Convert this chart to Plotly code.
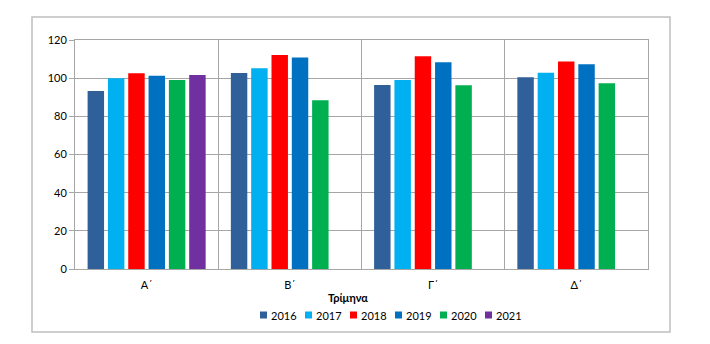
import plotly.graph_objects as go

# Quarterly index values by year
quarters = ["Α΄", "Β΄", "Γ΄", "Δ΄"]
years = ["2016", "2017", "2018", "2019", "2020", "2021"]
v2016 = [93.3, 102.7, 96.4, 100.5]
v2017 = [100.0, 105.2, 99.1, 102.9]
v2018 = [102.6, 112.2, 111.5, 108.7]
v2019 = [101.3, 110.8, 108.3, 107.3]
v2020 = [99.1, 88.4, 96.3, 97.3]
v2021 = [101.7, None, None, None]
series = [v2016, v2017, v2018, v2019, v2020, v2021]
colors = ["#30609a", "#00b0f0", "#ff0000", "#0070c0", "#00b050", "#7030a0"]
y_ticks = [0, 20, 40, 60, 80, 100, 120]

FONT = "Lato, 'Noto Sans', 'DejaVu Sans', sans-serif"
GRID = "#a6a6a6"

fig = go.Figure()
for name, vals, col in zip(years, series, colors):
    fig.add_trace(go.Bar(
        x=quarters, y=vals, name=name,
        marker=dict(color=col, line=dict(width=0)),
    ))

W, H = 710, 344
L, R, T, B = 75, 62, 40, 75
pw, ph = W - L - R, H - T - B

def px_x(p):
    return (p - L) / pw

def px_y(p):
    return (H - B - p) / ph

# Compact legend row under the axis title: small square swatch + year label
LEG_X0, LEG_STEP, LEG_Y, SW = 260, 45, 315, 7
legend_shapes, legend_notes = [], []
for i, (name, col) in enumerate(zip(years, colors)):
    x = LEG_X0 + i * LEG_STEP
    legend_shapes.append(dict(
        type="rect", xref="paper", yref="paper",
        x0=px_x(x), x1=px_x(x + SW),
        y0=px_y(LEG_Y + SW / 2), y1=px_y(LEG_Y - SW / 2),
        fillcolor=col, line=dict(width=0),
    ))
    legend_notes.append(dict(
        text=name, xref="paper", yref="paper",
        x=px_x(x + SW + 1.5), y=px_y(LEG_Y), showarrow=False,
        xanchor="left", yanchor="middle", font=dict(size=11),
    ))

fig.update_layout(
    width=W, height=H,
    margin=dict(l=L, r=R, t=T, b=B),
    paper_bgcolor="white", plot_bgcolor="white",
    barmode="group", bargap=0.149, bargroupgap=0.19,
    font=dict(family=FONT, size=11, color="#000000"),
    showlegend=False,
    xaxis=dict(
        type="category", tickson="boundaries",
        showgrid=True, gridcolor=GRID, gridwidth=1,
        showline=True, linecolor=GRID, linewidth=1, mirror=True,
        ticks="", tickfont=dict(size=11), ticklabelstandoff=6,
    ),
    yaxis=dict(
        range=[0, 120], tickvals=y_ticks, ticktext=[str(t) for t in y_ticks],
        showgrid=True, gridcolor=GRID, gridwidth=1,
        showline=True, linecolor=GRID, linewidth=1, mirror=True,
        ticks="outside", ticklen=5, tickcolor=GRID,
        tickfont=dict(size=11), zeroline=False,
    ),
    annotations=[dict(
        text="<b>Τρίμηνα</b>", xref="paper", yref="paper",
        x=px_x(348), y=px_y(297), showarrow=False,
        xanchor="center", yanchor="middle", font=dict(size=11),
    )] + legend_notes,
    shapes=[dict(
        type="rect", xref="paper", yref="paper",
        x0=px_x(32), x1=px_x(670), y0=px_y(332), y1=px_y(17),
        line=dict(color="#bfbfbf", width=1.5), fillcolor="rgba(0,0,0,0)",
        layer="below",
    )] + legend_shapes,
)

fig.write_html("out.html")
